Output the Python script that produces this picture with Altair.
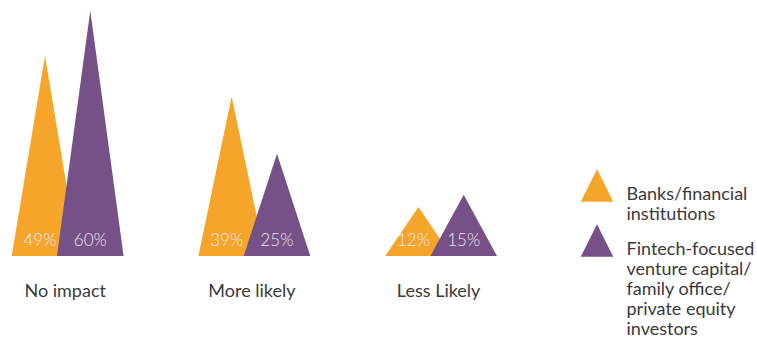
import json
import altair as alt
import pandas as pd

# ---- data ----
categories = ["No impact", "More likely", "Less Likely"]
series = [
    "Banks/financial\ninstitutions",
    "Fintech-focused\nventure capital/\nfamily office/\nprivate equity\ninvestors",
]
banks = [49, 39, 12]
fintech = [60, 25, 15]
colors = ["#F5A62A", "#765187"]

# ---- geometry (style) ----
offsets = [-0.1216, 0.121]   # peak position of each series relative to the category
half_width = 0.1784          # half base width of a triangle, in category units
label_dx = [-5, 0]

tri_rows = []
lab_rows = []
for s_idx, (name, vals) in enumerate(zip(series, [banks, fintech])):
    for c_idx, (cat, v) in enumerate(zip(categories, vals)):
        xc = c_idx + offsets[s_idx]
        tid = f"t{s_idx}{c_idx}"
        for xx, yy in [(xc - half_width, 0), (xc, v), (xc + half_width, 0)]:
            tri_rows.append({"series": name, "sidx": s_idx, "tri": tid, "x": xx, "y": yy})
        lab_rows.append({"series": name, "sidx": s_idx, "x": xc, "y": 0,
                         "label": f"{v}%"})

tri = pd.DataFrame(tri_rows)
labs = pd.DataFrame(lab_rows)

FONT = "Lato"
x_scale = alt.Scale(domain=[-0.3626, 3.692], nice=False, zero=False)
y_scale = alt.Scale(domain=[0, 62.62], nice=False, zero=True)
color_scale = alt.Scale(domain=series, range=colors)

cat_expr = json.dumps(categories) + "[datum.value]"

x_axis = alt.Axis(values=[0, 1, 2], labelExpr=cat_expr, grid=False, domain=False,
                  ticks=False, title=None, labelFont=FONT, labelFontSize=18,
                  labelColor="#3a3a3a", labelPadding=26, labelBaseline="top",
                  labelOffset=-3)

legend = alt.Legend(
    title=None, orient="none", legendX=580.5, legendY=169,
    symbolType="M0,-1L1,1L-1,1Z", symbolSize=1060, symbolStrokeWidth=0,
    symbolOpacity=1, labelFont=FONT, labelFontSize=18,
    labelColor="#3a3a3a", labelBaseline="top", labelOffset=13, labelLimit=300,
    labelExpr="split(datum.label, '\\n')", rowPadding=0, padding=0,
)

def area_for(idx):
    return alt.Chart(tri).transform_filter(alt.datum.sidx == idx).mark_area(
        opacity=1, interpolate="linear", orient="vertical"
    ).encode(
        x=alt.X("x:Q", scale=x_scale, axis=x_axis),
        y=alt.Y("y:Q", scale=y_scale, axis=None, stack=None),
        color=alt.Color("series:N", scale=color_scale, legend=legend),
        detail="tri:N",
    )

texts = []
for idx in range(2):
    texts.append(
        alt.Chart(labs).transform_filter(alt.datum.sidx == idx).mark_text(
            font=FONT, fontSize=17, fontWeight=300, color="#ECE4EE",
            baseline="alphabetic", align="center", dy=-10, dx=label_dx[idx]
        ).encode(
            x=alt.X("x:Q", scale=x_scale, axis=x_axis),
            y=alt.Y("y:Q", scale=y_scale, axis=None),
            text="label:N",
        )
    )

chart = alt.layer(area_for(0), area_for(1), *texts).properties(
    width=757, height=256, padding=0, background="white"
).configure_view(stroke=None)

chart.save("out.html", embed_options={"renderer": "svg", "actions": False})
